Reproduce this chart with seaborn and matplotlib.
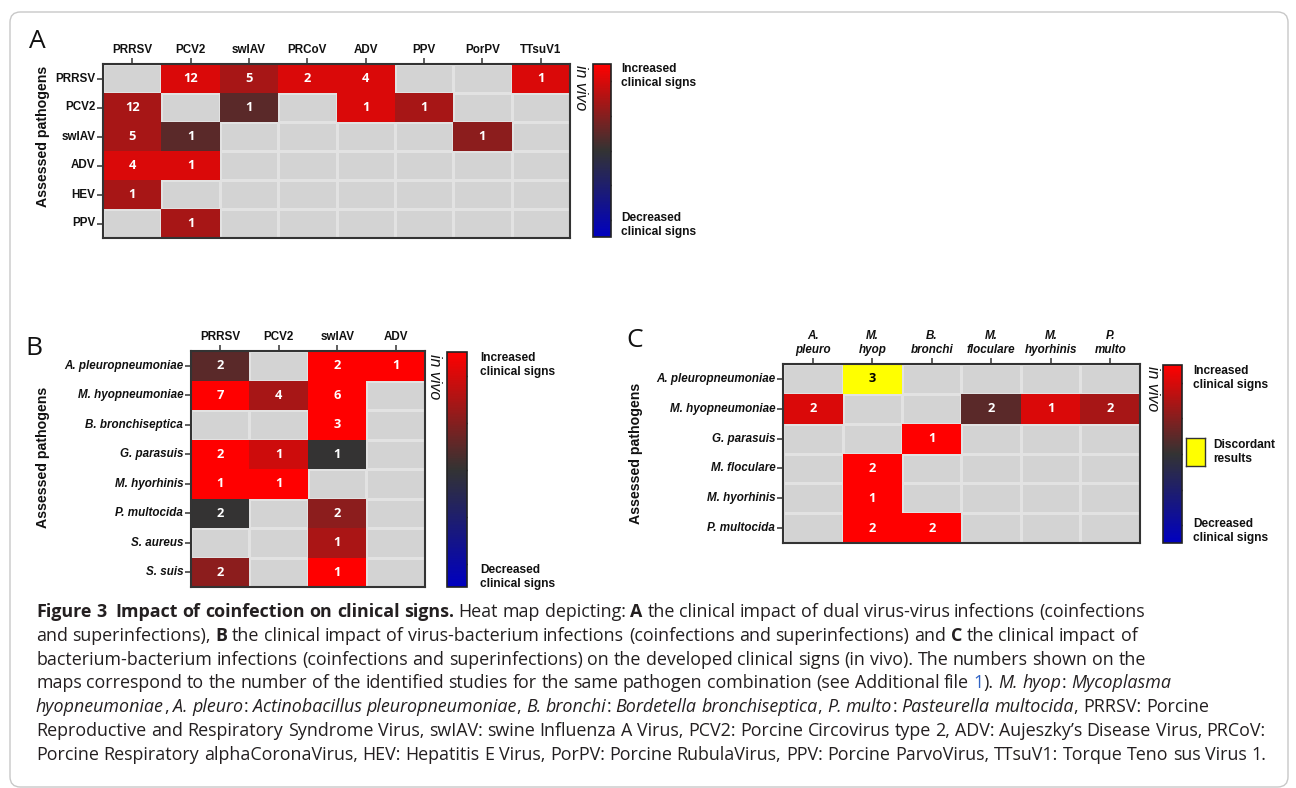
import re
import numpy as np
import matplotlib
matplotlib.use("Agg")
import matplotlib.pyplot as plt
import seaborn as sns
from matplotlib.colors import LinearSegmentedColormap, ListedColormap
from matplotlib.patches import FancyBboxPatch

nan = np.nan

# ---------------- Panel A : virus - virus ----------------
A_rows = ["PRRSV", "PCV2", "swIAV", "ADV", "HEV", "PPV"]
A_cols = ["PRRSV", "PCV2", "swIAV", "PRCoV", "ADV", "PPV", "PorPV", "TTsuV1"]
A_counts = [
    [nan, 12, 5, 2, 4, nan, nan, 1],
    [12, nan, 1, nan, 1, 1, nan, nan],
    [5, 1, nan, nan, nan, nan, 1, nan],
    [4, 1, nan, nan, nan, nan, nan, nan],
    [1, nan, nan, nan, nan, nan, nan, nan],
    [nan, 1, nan, nan, nan, nan, nan, nan],
]
# clinical impact score: +1 increased (red), 0 neutral (dark grey), -1 decreased (blue)
A_scores = [
    [nan, 0.82, 0.57, 0.82, 0.82, nan, nan, 0.82],
    [0.57, nan, 0.19, nan, 0.82, 0.57, nan, nan],
    [0.57, 0.19, nan, nan, nan, nan, 0.43, nan],
    [0.82, 0.82, nan, nan, nan, nan, nan, nan],
    [0.57, nan, nan, nan, nan, nan, nan, nan],
    [nan, 0.57, nan, nan, nan, nan, nan, nan],
]

# ---------------- Panel B : virus - bacterium ----------------
B_rows = ["A. pleuropneumoniae", "M. hyopneumoniae", "B. bronchiseptica", "G. parasuis",
          "M. hyorhinis", "P. multocida", "S. aureus", "S. suis"]
B_cols = ["PRRSV", "PCV2", "swIAV", "ADV"]
B_counts = [
    [2, nan, 2, 1],
    [7, 4, 6, nan],
    [nan, nan, 3, nan],
    [2, 1, 1, nan],
    [1, 1, nan, nan],
    [2, nan, 2, nan],
    [nan, nan, 1, nan],
    [2, nan, 1, nan],
]
B_scores = [
    [0.19, nan, 1.0, 1.0],
    [1.0, 0.57, 1.0, nan],
    [nan, nan, 1.0, nan],
    [1.0, 0.75, 0.0, nan],
    [1.0, 1.0, nan, nan],
    [0.0, nan, 0.43, nan],
    [nan, nan, 0.58, nan],
    [0.43, nan, 1.0, nan],
]

# ---------------- Panel C : bacterium - bacterium ----------------
C_rows = ["A. pleuropneumoniae", "M. hyopneumoniae", "G. parasuis", "M. floculare",
          "M. hyorhinis", "P. multocida"]
C_cols = ["A.\npleuro", "M.\nhyop", "B.\nbronchi", "M.\nfloculare", "M.\nhyorhinis", "P.\nmulto"]
C_counts = [
    [nan, nan, nan, nan, nan, nan],
    [2, nan, nan, 2, 1, 2],
    [nan, nan, 1, nan, nan, nan],
    [nan, 2, nan, nan, nan, nan],
    [nan, 1, nan, nan, nan, nan],
    [nan, 2, 2, nan, nan, nan],
]
C_scores = [
    [nan, nan, nan, nan, nan, nan],
    [0.82, nan, nan, 0.19, 0.82, 0.57],
    [nan, nan, 1.0, nan, nan, nan],
    [nan, 1.0, nan, nan, nan, nan],
    [nan, 1.0, nan, nan, nan, nan],
    [nan, 1.0, 1.0, nan, nan, nan],
]
# discordant results (yellow)
C_discordant = [
    [nan, 3, nan, nan, nan, nan],
    [nan, nan, nan, nan, nan, nan],
    [nan, nan, nan, nan, nan, nan],
    [nan, nan, nan, nan, nan, nan],
    [nan, nan, nan, nan, nan, nan],
    [nan, nan, nan, nan, nan, nan],
]

sns.set_theme(style="ticks")
plt.rcParams["font.family"] = ["Liberation Sans", "DejaVu Sans"]

W, H = 1296, 788
fig = plt.figure(figsize=(W / 100, H / 100), dpi=100)
fig.patch.set_facecolor("white")


def rect(x0, y0, x1, y1):
    return [x0 / W, 1 - y1 / H, (x1 - x0) / W, (y1 - y0) / H]


def fx(x):
    return x / W


def fy(y):
    return 1 - y / H


cmap = LinearSegmentedColormap.from_list("clin", ["#0000c0", "#333333", "#ff0000"])
TXT = "#111111"


def draw_panel(ax_box, cb_box, rows, cols, counts, scores, row_italic, col_italic,
               discordant=None):
    ax = fig.add_axes(rect(*ax_box))
    cax = fig.add_axes(rect(*cb_box))
    sc = np.array(scores, float)
    ct = np.array(counts, float)
    sns.heatmap(np.zeros_like(sc), ax=ax, cmap=ListedColormap(["#d3d3d3"]), cbar=False,
                linewidths=0.8, linecolor="#e2e2e2", xticklabels=False, yticklabels=False)
    sns.heatmap(sc, ax=ax, mask=np.isnan(sc), cmap=cmap, vmin=-1, vmax=1,
                annot=np.nan_to_num(ct), fmt=".0f",
                annot_kws=dict(color="white", fontsize=9.3, fontweight="bold", family="Open Sans"),
                linewidths=0, cbar=True, cbar_ax=cax,
                xticklabels=False, yticklabels=False)
    cb = ax.collections[1].colorbar
    if discordant is not None:
        dd = np.array(discordant, float)
        sns.heatmap(dd, ax=ax, mask=np.isnan(dd), cmap=ListedColormap(["#ffff00"]),
                    annot=np.nan_to_num(dd), fmt=".0f", cbar=False,
                    annot_kws=dict(color="black", fontsize=9.3, fontweight="bold", family="Open Sans"),
                    linewidths=0, xticklabels=False, yticklabels=False)
    ax.set_xticks(np.arange(len(cols)) + 0.5)
    ax.set_xticklabels(cols, fontsize=8.4, fontweight="bold",
                       fontstyle="italic" if col_italic else "normal",
                       color=TXT, rotation=0, ha="center", multialignment="center",
                       linespacing=1.15)
    ax.set_yticks(np.arange(len(rows)) + 0.5)
    ax.set_yticklabels(rows, fontsize=8.4, fontweight="bold",
                       fontstyle="italic" if row_italic else "normal",
                       color=TXT, rotation=0, va="center")
    ax.xaxis.tick_top()
    ax.tick_params(axis="x", top=True, bottom=False, labeltop=True, labelbottom=False,
                   length=4, width=1.1, color="#333333", pad=2)
    ax.tick_params(axis="y", left=True, length=4, width=1.1, color="#333333", pad=1.5)
    ax.set_xlabel("")
    ax.set_ylabel("")
    for sp in ax.spines.values():
        sp.set_visible(True)
        sp.set_linewidth(1.5)
        sp.set_edgecolor("#333333")
    cb.outline.set_visible(True)
    cb.outline.set_linewidth(1.2)
    cb.outline.set_edgecolor("#222222")
    cb.set_ticks([-0.8, -0.4, 0, 0.4, 0.8])
    cax.tick_params(axis="y", right=True, left=False, labelright=False, labelleft=False,
                    direction="in", length=3.5, width=1, color="#111111")
    return ax, cax


# Panel A
draw_panel((103, 64, 570, 238), (593, 64, 611, 237), A_rows, A_cols, A_counts, A_scores,
           False, False)
# Panel B
draw_panel((191, 351, 425, 587), (447, 352, 467, 587), B_rows, B_cols, B_counts, B_scores,
           True, False)
# Panel C
draw_panel((783, 364, 1140, 543), (1163, 365, 1182, 543), C_rows, C_cols, C_counts, C_scores,
           True, True, discordant=C_discordant)

# panel letters
for letter, x, y in [("A", 29, 48), ("B", 25, 355), ("C", 626, 347)]:
    fig.text(fx(x), fy(y), letter, fontsize=19, family="Open Sans", color="#111111",
             va="baseline", ha="left")

# y labels
for x, y in [(43, 136), (43, 457), (636, 453)]:
    fig.text(fx(x), fy(y), "Assessed pathogens", rotation=90, ha="center", va="center",
             fontsize=10.2, fontweight="bold", color=TXT)

# in vivo labels
for x, y in [(580, 65), (435, 354), (1152, 366)]:
    fig.text(fx(x), fy(y), "in vivo", rotation=-90, ha="center", va="top",
             fontsize=11.5, fontstyle="italic", color=TXT)

# colorbar labels
for x, ytop, ybot in [(621, 63, 238), (480, 352, 590), (1193, 365, 544)]:
    fig.text(fx(x), fy(ytop), "Increased\nclinical signs", ha="left", va="top",
             fontsize=8.6, fontweight="bold", color=TXT, linespacing=1.2)
    fig.text(fx(x), fy(ybot), "Decreased\nclinical signs", ha="left", va="bottom",
             fontsize=8.6, fontweight="bold", color=TXT, linespacing=1.2)

# discordant legend
legax = fig.add_axes(rect(1186, 438, 1205, 466))
legax.set_facecolor("#ffff00")
legax.set_xticks([])
legax.set_yticks([])
for sp in legax.spines.values():
    sp.set_linewidth(1.0)
    sp.set_edgecolor("#333333")
fig.text(fx(1213), fy(452), "Discordant\nresults", ha="left", va="center",
         fontsize=8.6, fontweight="bold", color=TXT, linespacing=1.2)

# frame
frame = FancyBboxPatch((fx(10), fy(787)), fx(1288) - fx(10), fy(12) - fy(787),
                       boxstyle="round,pad=0,rounding_size=0.008", transform=fig.transFigure,
                       fill=False, ec="#c8c8c8", lw=1.0, mutation_aspect=W / H)
fig.patches.append(frame)

# ---------------- caption ----------------
cap_lines = [
    [("Figure 3  Impact of coinfection on clinical signs.", "b"), (" Heat map depicting: ", "r"),
     ("A", "b"), (" the clinical impact of dual virus-virus infections (coinfections", "r")],
    [("and superinfections), ", "r"), ("B", "b"),
     (" the clinical impact of virus-bacterium infections (coinfections and superinfections) and ", "r"),
     ("C", "b"), (" the clinical impact of", "r")],
    [("bacterium-bacterium infections (coinfections and superinfections) on the developed clinical signs (in vivo). The numbers shown on the", "r")],
    [("maps correspond to the number of the identified studies for the same pathogen combination (see Additional file ", "r"),
     ("1", "link"), ("). ", "r"), ("M. hyop", "i"), (": ", "r"), ("Mycoplasma", "i")],
    [("hyopneumoniae", "i"), (", ", "r"), ("A. pleuro", "i"), (": ", "r"),
     ("Actinobacillus pleuropneumoniae", "i"), (", ", "r"), ("B. bronchi", "i"), (": ", "r"),
     ("Bordetella bronchiseptica", "i"), (", ", "r"), ("P. multo", "i"), (": ", "r"),
     ("Pasteurella multocida", "i"), (", PRRSV: Porcine", "r")],
    [("Reproductive and Respiratory Syndrome Virus, swIAV: swine Influenza A Virus, PCV2: Porcine Circovirus type 2, ADV: Aujeszky\u2019s Disease Virus, PRCoV:", "r")],
    [("Porcine Respiratory alphaCoronaVirus, HEV: Hepatitis E Virus, PorPV: Porcine RubulaVirus, PPV: Porcine ParvoVirus, TTsuV1: Torque Teno sus Virus 1.", "r")],
]
CAP_X0 = 36
CAP_FONT = "Open Sans"
CAP_COL = "#231f20"
STY = {
    "r": dict(fontweight="normal", fontstyle="normal", color=CAP_COL),
    "b": dict(fontweight="bold", fontstyle="normal", color=CAP_COL),
    "i": dict(fontweight="normal", fontstyle="italic", color=CAP_COL),
    "link": dict(fontweight="normal", fontstyle="normal", color="#2f62c4"),
}
renderer = fig.canvas.get_renderer()
_cache = {}


def measure(s, st, size):
    key = (s, st, size)
    if key not in _cache:
        t = fig.text(0, 0, s, family=CAP_FONT, fontsize=size, **STY[st])
        _cache[key] = t.get_window_extent(renderer).width
        t.remove()
    return _cache[key]


def advance(s, st, size):
    # width up to the next glyph (includes right side bearing)
    return measure(s + "l", st, size) - measure("l", st, size)


def layout(line, x0, ybase, size, draw=False):
    x = x0
    for text, st in line:
        spw = measure("n n", st, size) - measure("nn", st, size)
        for p in re.split("( )", text):
            if p == " ":
                x += spw
            elif p:
                if draw:
                    fig.text(fx(x), fy(ybase), p, family=CAP_FONT, fontsize=size,
                             va="baseline", ha="left", **STY[st])
                x += advance(p, st, size)
    return x - x0


base = 10.0
cap_size = base * (1267 - CAP_X0) / layout(cap_lines[-1], 0, 0, base)
for i, line in enumerate(cap_lines):
    layout(line, CAP_X0, 617 + 23.8 * i, cap_size, draw=True)

fig.savefig("out.png", dpi=100, facecolor="white")
